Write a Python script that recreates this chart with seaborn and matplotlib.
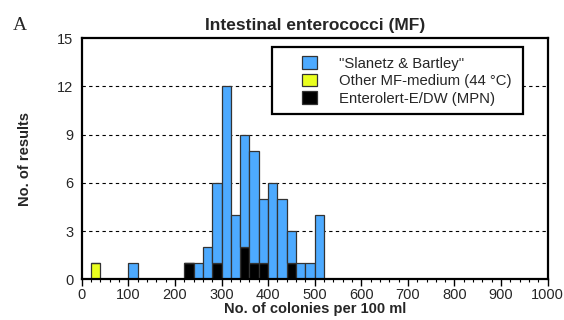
import numpy as np
import pandas as pd
import matplotlib
matplotlib.use("Agg")
import matplotlib.pyplot as plt
from matplotlib.patches import Patch, Rectangle
from matplotlib.ticker import MultipleLocator
import seaborn as sns

# bin left edges (width 20) and counts per method
bin_left = [20, 100, 220, 240, 260, 280, 300, 320, 340, 360, 380, 400, 420, 440, 460, 480, 500]
slanetz = [0, 1, 0, 1, 2, 5, 12, 4, 7, 7, 4, 6, 5, 2, 1, 1, 4]
other_mf = [1, 0, 0, 0, 0, 0, 0, 0, 0, 0, 0, 0, 0, 0, 0, 0, 0]
enterolert = [0, 0, 1, 0, 0, 1, 0, 0, 2, 1, 1, 0, 0, 1, 0, 0, 0]

methods = ['"Slanetz & Bartley"', "Other MF-medium (44 °C)", "Enterolert-E/DW (MPN)"]
colors = ["#4DAAFF", "#EAFF1E", "#000000"]

rows = []
for name, counts in zip(methods, [slanetz, other_mf, enterolert]):
    for b, c in zip(bin_left, counts):
        rows.append({"value": b + 10, "count": c, "method": name})
df = pd.DataFrame(rows)

sns.set_style("white")
plt.rcParams["font.family"] = ["Liberation Sans", "DejaVu Sans"]

fig = plt.figure(figsize=(5.64, 3.2), dpi=100)
ax = fig.add_axes([0.145, 0.127, 0.826, 0.754])

# grid first so bars cover it
for yv in [3, 6, 9, 12]:
    ax.axhline(yv, color="black", lw=0.8, ls=(0, (3, 3)), zorder=0)

# first hue level ends up on top of the stack
sns.histplot(data=df, x="value", weights="count", hue="method",
             hue_order=methods, palette=dict(zip(methods, colors)),
             multiple="stack", binwidth=20, binrange=(0, 1000),
             edgecolor="#333333", linewidth=0.9, alpha=1, legend=False, ax=ax)

ax.set_xlim(0, 1000)
ax.set_ylim(0, 15)
ax.set_yticks([0, 3, 6, 9, 12, 15])
ax.xaxis.set_major_locator(MultipleLocator(100))
ax.xaxis.set_minor_locator(MultipleLocator(20))
ax.tick_params(axis="x", which="major", bottom=True, direction="out", length=5, width=1,
               labelsize=10.5, pad=1, color="black")
ax.tick_params(axis="x", which="minor", bottom=True, direction="out", length=2.5, width=0.8,
               color="black")
ax.tick_params(axis="y", length=0, labelsize=10.5, pad=6)
for s in ax.spines.values():
    s.set_linewidth(1.6)
    s.set_color("black")

ax.set_xlabel("No. of colonies per 100 ml", fontsize=10.5, fontweight="bold", labelpad=0)
ax.set_ylabel("No. of results", fontsize=10.5, fontweight="bold", labelpad=18)
ax.set_title("Intestinal enterococci (MF)", fontsize=12.5, fontweight="bold", pad=6)

# legend box drawn by hand so the padding on the left matches
ax.add_patch(Rectangle((0.408, 0.685), 0.539, 0.278, transform=ax.transAxes,
                       facecolor="white", edgecolor="black", lw=1.6, zorder=4))
handles = [Patch(facecolor=c, edgecolor="#333333", lw=0.9) for c in colors]
leg = ax.legend(handles, methods, loc="upper left", bbox_to_anchor=(0.472, 0.925),
                fontsize=10.7, handlelength=1.0, handleheight=0.95, handletextpad=1.5,
                labelspacing=0.2, borderpad=0, borderaxespad=0, frameon=False)
leg.set_zorder(5)

fig.text(0.035, 0.92, "A", fontsize=14, family="Liberation Serif", ha="center", va="center")

fig.savefig("out.png", dpi=100)
